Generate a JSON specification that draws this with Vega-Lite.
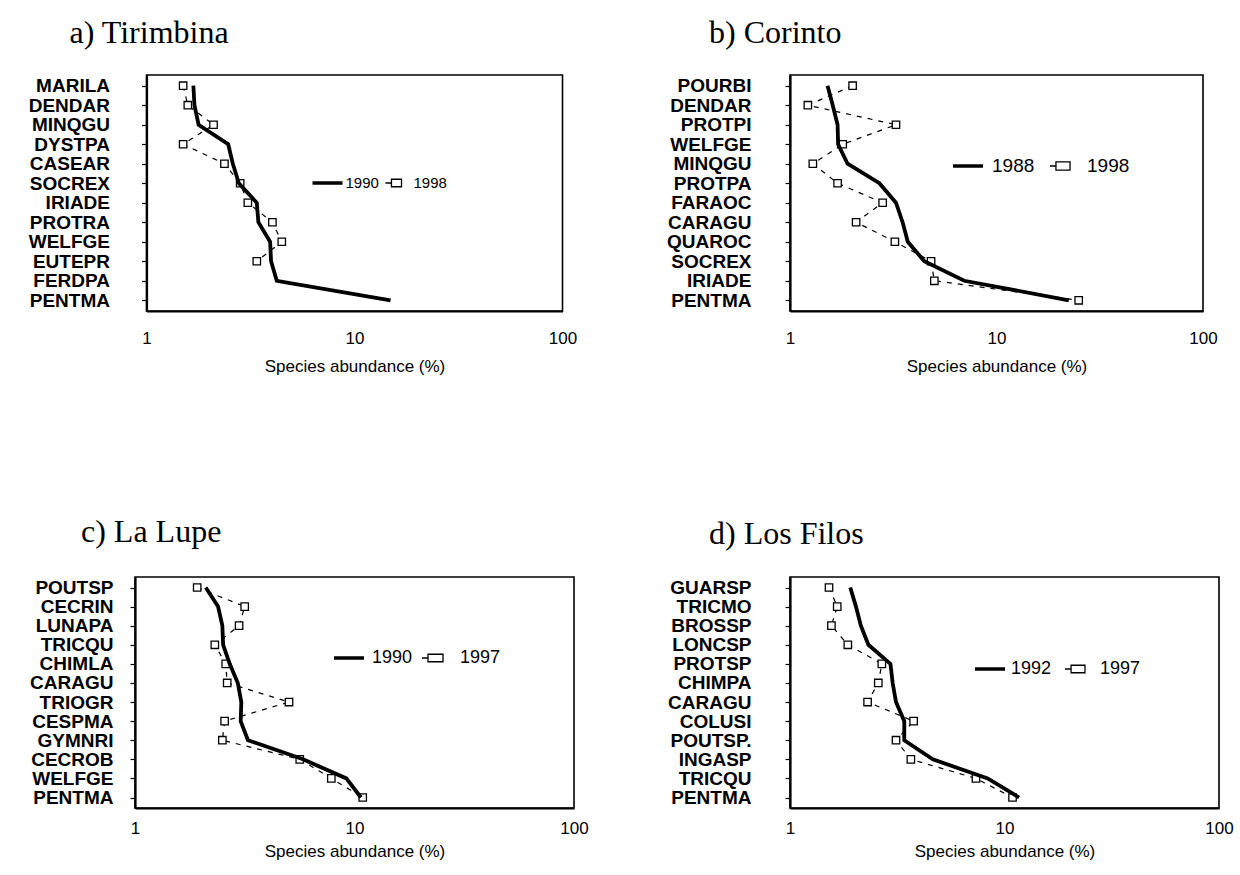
{
  "$schema": "https://vega.github.io/schema/vega-lite/v6.json",
  "background": "white",
  "padding": {"left": 0, "top": 16, "right": 0, "bottom": 0},
  "datasets": {
    "tirimbina": [
      {"sp": "MARILA", "yr": "1990", "pct": 1.68, "rank": 1},
      {"sp": "DENDAR", "yr": "1990", "pct": 1.70, "rank": 2},
      {"sp": "MINQGU", "yr": "1990", "pct": 1.78, "rank": 3},
      {"sp": "DYSTPA", "yr": "1990", "pct": 2.47, "rank": 4},
      {"sp": "CASEAR", "yr": "1990", "pct": 2.60, "rank": 5},
      {"sp": "SOCREX", "yr": "1990", "pct": 2.78, "rank": 6},
      {"sp": "IRIADE", "yr": "1990", "pct": 3.39, "rank": 7},
      {"sp": "PROTRA", "yr": "1990", "pct": 3.45, "rank": 8},
      {"sp": "WELFGE", "yr": "1990", "pct": 3.93, "rank": 9},
      {"sp": "EUTEPR", "yr": "1990", "pct": 3.97, "rank": 10},
      {"sp": "FERDPA", "yr": "1990", "pct": 4.23, "rank": 11},
      {"sp": "PENTMA", "yr": "1990", "pct": 14.9, "rank": 12},
      {"sp": "MARILA", "yr": "1998", "pct": 1.50, "rank": 1},
      {"sp": "DENDAR", "yr": "1998", "pct": 1.58, "rank": 2},
      {"sp": "MINQGU", "yr": "1998", "pct": 2.10, "rank": 3},
      {"sp": "DYSTPA", "yr": "1998", "pct": 1.50, "rank": 4},
      {"sp": "CASEAR", "yr": "1998", "pct": 2.37, "rank": 5},
      {"sp": "SOCREX", "yr": "1998", "pct": 2.82, "rank": 6},
      {"sp": "IRIADE", "yr": "1998", "pct": 3.07, "rank": 7},
      {"sp": "PROTRA", "yr": "1998", "pct": 4.03, "rank": 8},
      {"sp": "WELFGE", "yr": "1998", "pct": 4.47, "rank": 9},
      {"sp": "EUTEPR", "yr": "1998", "pct": 3.39, "rank": 10}
    ],
    "corinto": [
      {"sp": "POURBI", "yr": "1988", "pct": 1.52, "rank": 1},
      {"sp": "DENDAR", "yr": "1988", "pct": 1.61, "rank": 2},
      {"sp": "PROTPI", "yr": "1988", "pct": 1.70, "rank": 3},
      {"sp": "WELFGE", "yr": "1988", "pct": 1.71, "rank": 4},
      {"sp": "MINQGU", "yr": "1988", "pct": 1.90, "rank": 5},
      {"sp": "PROTPA", "yr": "1988", "pct": 2.71, "rank": 6},
      {"sp": "FARAOC", "yr": "1988", "pct": 3.26, "rank": 7},
      {"sp": "CARAGU", "yr": "1988", "pct": 3.51, "rank": 8},
      {"sp": "QUAROC", "yr": "1988", "pct": 3.72, "rank": 9},
      {"sp": "SOCREX", "yr": "1988", "pct": 4.47, "rank": 10},
      {"sp": "IRIADE", "yr": "1988", "pct": 6.98, "rank": 11},
      {"sp": "PENTMA", "yr": "1988", "pct": 22.4, "rank": 12},
      {"sp": "POURBI", "yr": "1998", "pct": 2.01, "rank": 1},
      {"sp": "DENDAR", "yr": "1998", "pct": 1.22, "rank": 2},
      {"sp": "PROTPI", "yr": "1998", "pct": 3.26, "rank": 3},
      {"sp": "WELFGE", "yr": "1998", "pct": 1.80, "rank": 4},
      {"sp": "MINQGU", "yr": "1998", "pct": 1.29, "rank": 5},
      {"sp": "PROTPA", "yr": "1998", "pct": 1.70, "rank": 6},
      {"sp": "FARAOC", "yr": "1998", "pct": 2.81, "rank": 7},
      {"sp": "CARAGU", "yr": "1998", "pct": 2.09, "rank": 8},
      {"sp": "QUAROC", "yr": "1998", "pct": 3.22, "rank": 9},
      {"sp": "SOCREX", "yr": "1998", "pct": 4.82, "rank": 10},
      {"sp": "IRIADE", "yr": "1998", "pct": 5.00, "rank": 11},
      {"sp": "PENTMA", "yr": "1998", "pct": 25.0, "rank": 12}
    ],
    "lalupe": [
      {"sp": "POUTSP", "yr": "1990", "pct": 2.10, "rank": 1},
      {"sp": "CECRIN", "yr": "1990", "pct": 2.39, "rank": 2},
      {"sp": "LUNAPA", "yr": "1990", "pct": 2.50, "rank": 3},
      {"sp": "TRICQU", "yr": "1990", "pct": 2.52, "rank": 4},
      {"sp": "CHIMLA", "yr": "1990", "pct": 2.70, "rank": 5},
      {"sp": "CARAGU", "yr": "1990", "pct": 2.94, "rank": 6},
      {"sp": "TRIOGR", "yr": "1990", "pct": 3.05, "rank": 7},
      {"sp": "CESPMA", "yr": "1990", "pct": 3.03, "rank": 8},
      {"sp": "GYMNRI", "yr": "1990", "pct": 3.27, "rank": 9},
      {"sp": "CECROB", "yr": "1990", "pct": 5.83, "rank": 10},
      {"sp": "WELFGE", "yr": "1990", "pct": 9.18, "rank": 11},
      {"sp": "PENTMA", "yr": "1990", "pct": 10.7, "rank": 12},
      {"sp": "POUTSP", "yr": "1997", "pct": 1.92, "rank": 1},
      {"sp": "CECRIN", "yr": "1997", "pct": 3.16, "rank": 2},
      {"sp": "LUNAPA", "yr": "1997", "pct": 2.98, "rank": 3},
      {"sp": "TRICQU", "yr": "1997", "pct": 2.31, "rank": 4},
      {"sp": "CHIMLA", "yr": "1997", "pct": 2.59, "rank": 5},
      {"sp": "CARAGU", "yr": "1997", "pct": 2.63, "rank": 6},
      {"sp": "TRIOGR", "yr": "1997", "pct": 5.03, "rank": 7},
      {"sp": "CESPMA", "yr": "1997", "pct": 2.56, "rank": 8},
      {"sp": "GYMNRI", "yr": "1997", "pct": 2.50, "rank": 9},
      {"sp": "CECROB", "yr": "1997", "pct": 5.63, "rank": 10},
      {"sp": "WELFGE", "yr": "1997", "pct": 7.84, "rank": 11},
      {"sp": "PENTMA", "yr": "1997", "pct": 10.9, "rank": 12}
    ],
    "losfilos": [
      {"sp": "GUARSP", "yr": "1992", "pct": 1.91, "rank": 1},
      {"sp": "TRICMO", "yr": "1992", "pct": 2.03, "rank": 2},
      {"sp": "BROSSP", "yr": "1992", "pct": 2.14, "rank": 3},
      {"sp": "LONCSP", "yr": "1992", "pct": 2.32, "rank": 4},
      {"sp": "PROTSP", "yr": "1992", "pct": 2.94, "rank": 5},
      {"sp": "CHIMPA", "yr": "1992", "pct": 3.01, "rank": 6},
      {"sp": "CARAGU", "yr": "1992", "pct": 3.12, "rank": 7},
      {"sp": "COLUSI", "yr": "1992", "pct": 3.41, "rank": 8},
      {"sp": "POUTSP.", "yr": "1992", "pct": 3.41, "rank": 9},
      {"sp": "INGASP", "yr": "1992", "pct": 4.63, "rank": 10},
      {"sp": "TRICQU", "yr": "1992", "pct": 8.35, "rank": 11},
      {"sp": "PENTMA", "yr": "1992", "pct": 11.7, "rank": 12},
      {"sp": "GUARSP", "yr": "1997", "pct": 1.52, "rank": 1},
      {"sp": "TRICMO", "yr": "1997", "pct": 1.66, "rank": 2},
      {"sp": "BROSSP", "yr": "1997", "pct": 1.56, "rank": 3},
      {"sp": "LONCSP", "yr": "1997", "pct": 1.86, "rank": 4},
      {"sp": "PROTSP", "yr": "1997", "pct": 2.68, "rank": 5},
      {"sp": "CHIMPA", "yr": "1997", "pct": 2.58, "rank": 6},
      {"sp": "CARAGU", "yr": "1997", "pct": 2.30, "rank": 7},
      {"sp": "COLUSI", "yr": "1997", "pct": 3.77, "rank": 8},
      {"sp": "POUTSP.", "yr": "1997", "pct": 3.12, "rank": 9},
      {"sp": "INGASP", "yr": "1997", "pct": 3.66, "rank": 10},
      {"sp": "TRICQU", "yr": "1997", "pct": 7.36, "rank": 11},
      {"sp": "PENTMA", "yr": "1997", "pct": 10.9, "rank": 12}
    ]
  },
  "columns": 2,
  "align": {"row": "each", "column": "each"},
  "center": {"row": false, "column": true},
  "spacing": {"row": 140, "column": 58},
  "resolve": {"scale": {"shape": "independent"}, "legend": {"shape": "independent"}},
  "concat": [
    {
      "width": 416, "height": 236,
      "data": {"name": "tirimbina"},
      "title": {"text": "a) Tirimbina", "dx": -77, "offset": 25},
      "encoding": {
        "y": {"field": "sp", "type": "nominal",
              "scale": {"type": "point", "padding": 0.55,
                        "domain": ["MARILA", "DENDAR", "MINQGU", "DYSTPA", "CASEAR", "SOCREX", "IRIADE", "PROTRA", "WELFGE", "EUTEPR", "FERDPA", "PENTMA"]},
              "axis": {"title": null, "labelPadding": 32, "minExtent": 145}},
        "x": {"field": "pct", "type": "quantitative",
              "scale": {"type": "log", "domain": [1, 100], "nice": false},
              "axis": {"title": "Species abundance (%)", "values": [1, 10, 100], "labelPadding": 19, "titlePadding": 12}},
        "order": {"field": "rank", "type": "quantitative"}
      },
      "layer": [
        {"transform": [{"filter": "datum.yr == '1998'"}],
         "mark": {"type": "line", "color": "black", "strokeWidth": 1.2, "strokeDash": [5, 6]}},
        {"transform": [{"filter": "datum.yr == '1998'"}],
         "mark": {"type": "point", "shape": "square", "size": 55, "filled": true, "fill": "white", "stroke": "black", "strokeWidth": 1.3, "opacity": 1}},
        {"transform": [{"filter": "datum.yr == '1990'"}],
         "mark": {"type": "line", "color": "black", "strokeWidth": 3.8}},
        {"transform": [{"filter": "false"}],
         "mark": {"type": "point", "filled": false, "color": "black", "opacity": 1},
         "encoding": {"shape": {"field": "yr", "type": "nominal",
            "scale": {"domain": ["1990", "1998"], "range": ["M-1,-0.08H1M-1,-0.04H1M-1,0H1M-1,0.04H1M-1,0.08H1", "M-0.67,0H-0.27M-0.27,-0.25H0.4V0.25H-0.27Z"]},
            "legend": {"title": null, "orient": "none", "legendX": 165, "legendY": 92, "direction": "horizontal",
                       "columnPadding": -8, "labelOffset": 2, "labelFontSize": 15, "symbolOpacity": 1}}}}
      ]
    },
    {
      "width": 413, "height": 236,
      "data": {"name": "corinto"},
      "title": {"text": "b) Corinto", "dx": -81, "offset": 25},
      "encoding": {
        "y": {"field": "sp", "type": "nominal",
              "scale": {"type": "point", "padding": 0.55,
                        "domain": ["POURBI", "DENDAR", "PROTPI", "WELFGE", "MINQGU", "PROTPA", "FARAOC", "CARAGU", "QUAROC", "SOCREX", "IRIADE", "PENTMA"]},
              "axis": {"title": null, "labelPadding": 34}},
        "x": {"field": "pct", "type": "quantitative",
              "scale": {"type": "log", "domain": [1, 100], "nice": false},
              "axis": {"title": "Species abundance (%)", "values": [1, 10, 100], "labelPadding": 19, "titlePadding": 12}},
        "order": {"field": "rank", "type": "quantitative"}
      },
      "layer": [
        {"transform": [{"filter": "datum.yr == '1998'"}],
         "mark": {"type": "line", "color": "black", "strokeWidth": 1.2, "strokeDash": [5, 6]}},
        {"transform": [{"filter": "datum.yr == '1998'"}],
         "mark": {"type": "point", "shape": "square", "size": 55, "filled": true, "fill": "white", "stroke": "black", "strokeWidth": 1.3, "opacity": 1}},
        {"transform": [{"filter": "datum.yr == '1988'"}],
         "mark": {"type": "line", "color": "black", "strokeWidth": 3.8}},
        {"transform": [{"filter": "false"}],
         "mark": {"type": "point", "filled": false, "color": "black", "opacity": 1},
         "encoding": {"shape": {"field": "yr", "type": "nominal",
            "scale": {"domain": ["1988", "1998"], "range": ["M-1,-0.08H1M-1,-0.04H1M-1,0H1M-1,0.04H1M-1,0.08H1", "M-0.87,0H-0.47M-0.47,-0.27H0.47V0.27H-0.47Z"]},
            "legend": {"title": null, "orient": "none", "legendX": 162, "legendY": 75, "direction": "horizontal",
                       "columnPadding": 12, "labelOffset": 8, "labelFontSize": 19, "symbolOpacity": 1}}}}
      ]
    },
    {
      "width": 439, "height": 231,
      "data": {"name": "lalupe"},
      "title": {"text": "c) La Lupe", "dx": -54, "offset": 28},
      "encoding": {
        "y": {"field": "sp", "type": "nominal",
              "scale": {"type": "point", "padding": 0.55,
                        "domain": ["POUTSP", "CECRIN", "LUNAPA", "TRICQU", "CHIMLA", "CARAGU", "TRIOGR", "CESPMA", "GYMNRI", "CECROB", "WELFGE", "PENTMA"]},
              "axis": {"title": null, "labelPadding": 17}},
        "x": {"field": "pct", "type": "quantitative",
              "scale": {"type": "log", "domain": [1, 100], "nice": false},
              "axis": {"title": "Species abundance (%)", "values": [1, 10, 100], "labelPadding": 12, "titlePadding": 7}},
        "order": {"field": "rank", "type": "quantitative"}
      },
      "layer": [
        {"transform": [{"filter": "datum.yr == '1997'"}],
         "mark": {"type": "line", "color": "black", "strokeWidth": 1.2, "strokeDash": [5, 6]}},
        {"transform": [{"filter": "datum.yr == '1997'"}],
         "mark": {"type": "point", "shape": "square", "size": 55, "filled": true, "fill": "white", "stroke": "black", "strokeWidth": 1.3, "opacity": 1}},
        {"transform": [{"filter": "datum.yr == '1990'"}],
         "mark": {"type": "line", "color": "black", "strokeWidth": 3.8}},
        {"transform": [{"filter": "false"}],
         "mark": {"type": "point", "filled": false, "color": "black", "opacity": 1},
         "encoding": {"shape": {"field": "yr", "type": "nominal",
            "scale": {"domain": ["1990", "1997"], "range": ["M-1,-0.08H1M-1,-0.04H1M-1,0H1M-1,0.04H1M-1,0.08H1", "M-1,0H-0.6M-0.6,-0.25H0.4V0.25H-0.6Z"]},
            "legend": {"title": null, "orient": "none", "legendX": 198, "legendY": 65, "direction": "horizontal",
                       "columnPadding": 6, "labelOffset": 7, "labelFontSize": 18, "symbolOpacity": 1}}}}
      ]
    },
    {
      "width": 429, "height": 231,
      "data": {"name": "losfilos"},
      "title": {"text": "d) Los Filos", "dx": -81, "offset": 26},
      "encoding": {
        "y": {"field": "sp", "type": "nominal",
              "scale": {"type": "point", "padding": 0.55,
                        "domain": ["GUARSP", "TRICMO", "BROSSP", "LONCSP", "PROTSP", "CHIMPA", "CARAGU", "COLUSI", "POUTSP.", "INGASP", "TRICQU", "PENTMA"]},
              "axis": {"title": null, "labelPadding": 34, "minExtent": 142}},
        "x": {"field": "pct", "type": "quantitative",
              "scale": {"type": "log", "domain": [1, 100], "nice": false},
              "axis": {"title": "Species abundance (%)", "values": [1, 10, 100], "labelPadding": 12, "titlePadding": 7}},
        "order": {"field": "rank", "type": "quantitative"}
      },
      "layer": [
        {"transform": [{"filter": "datum.yr == '1997'"}],
         "mark": {"type": "line", "color": "black", "strokeWidth": 1.2, "strokeDash": [5, 6]}},
        {"transform": [{"filter": "datum.yr == '1997'"}],
         "mark": {"type": "point", "shape": "square", "size": 55, "filled": true, "fill": "white", "stroke": "black", "strokeWidth": 1.3, "opacity": 1}},
        {"transform": [{"filter": "datum.yr == '1992'"}],
         "mark": {"type": "line", "color": "black", "strokeWidth": 3.8}},
        {"transform": [{"filter": "false"}],
         "mark": {"type": "point", "filled": false, "color": "black", "opacity": 1},
         "encoding": {"shape": {"field": "yr", "type": "nominal",
            "scale": {"domain": ["1992", "1997"], "range": ["M-1,-0.08H1M-1,-0.04H1M-1,0H1M-1,0.04H1M-1,0.08H1", "M-0.93,0H-0.53M-0.53,-0.25H0.4V0.25H-0.53Z"]},
            "legend": {"title": null, "orient": "none", "legendX": 184, "legendY": 76, "direction": "horizontal",
                       "columnPadding": 10, "labelOffset": 5, "labelFontSize": 18, "symbolOpacity": 1}}}}
      ]
    }
  ],
  "config": {
    "view": {"stroke": "black", "strokeWidth": 1.6},
    "axis": {"grid": false, "domainColor": "black", "domainWidth": 2.2, "tickColor": "black",
             "labelColor": "black", "titleColor": "black", "labelFont": "Liberation Sans", "titleFont": "Liberation Sans"},
    "axisY": {"labelFontSize": 19, "labelFontWeight": "bold", "tickSize": 5, "tickWidth": 1.2},
    "axisX": {"labelFontSize": 17, "titleFontSize": 17, "titleFontWeight": "normal", "ticks": false, "labelFlush": false},
    "title": {"font": "Liberation Serif", "fontSize": 32, "fontWeight": "normal", "anchor": "start", "baseline": "alphabetic", "color": "black", "frame": "group"},
    "legend": {"symbolSize": 900, "symbolStrokeWidth": 1.3, "symbolStrokeColor": "black", "symbolFillColor": "transparent",
               "labelFont": "Liberation Sans", "labelColor": "black"}
  }
}
